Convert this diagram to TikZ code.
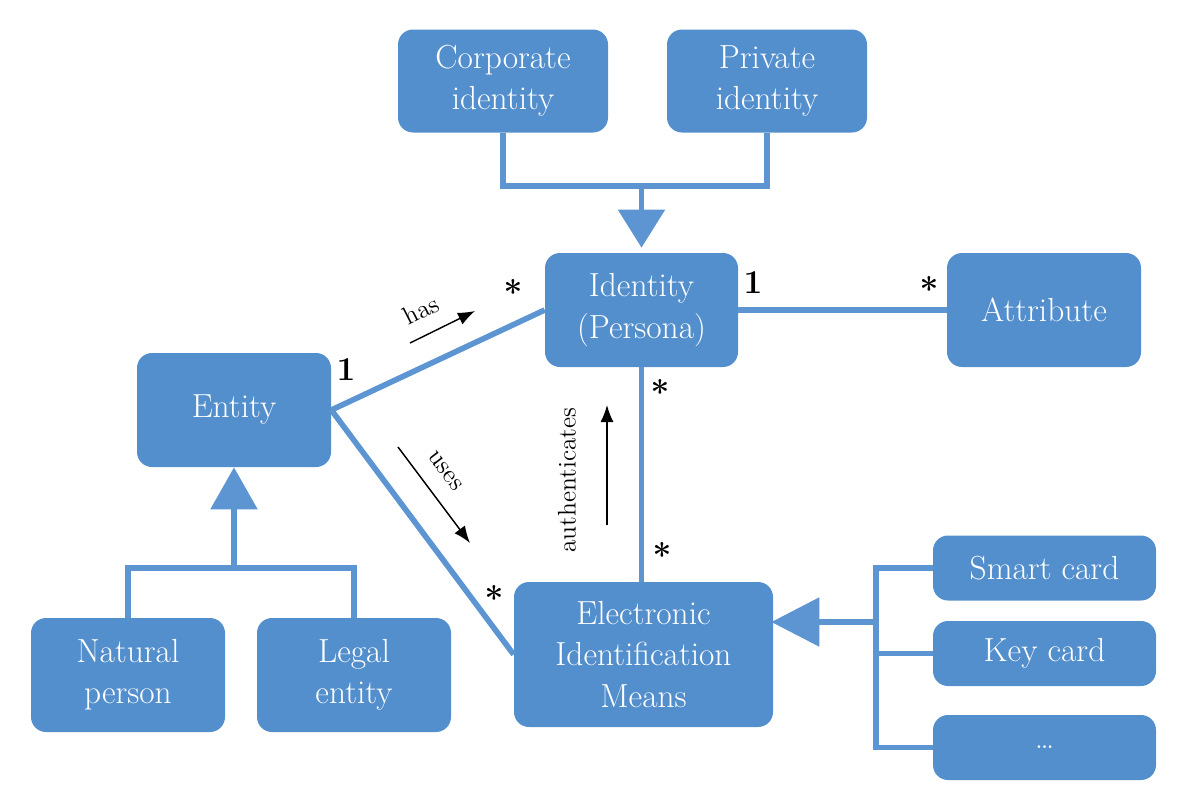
\documentclass[tikz,border=0pt]{standalone}
\usepackage{tikz}
\usepackage{xcolor}
\usetikzlibrary{arrows.meta,positioning}
\definecolor{boxblue}{RGB}{84,143,205}
\definecolor{lineblue}{RGB}{92,149,210}

\begin{document}
\begin{tikzpicture}[font=\fontsize{19}{23.5}\selectfont,
    entbox/.style={fill=boxblue, rounded corners=0.3cm, text=white, align=center, inner sep=0pt},
    link/.style={draw=lineblue, line width=3.2pt},
    gen/.style={link, -{Triangle[width=0.92cm,length=0.76cm]}},
    mult/.style={font=\fontsize{19}{19}\selectfont\bfseries},
    rolelab/.style={font=\fontsize{14.5}{14.5}\selectfont},
    dir/.style={-{Latex[length=0.34cm,width=0.26cm]}, line width=0.8pt}]
\useasboundingbox (0,0) rectangle (24,-16.22);

% classes
\node[entbox, minimum width=4.2cm, minimum height=2.06cm] (corp) at (10.06,-1.62) {Corporate\\identity};
\node[entbox, minimum width=4.0cm, minimum height=2.06cm] (priv) at (15.34,-1.62) {Private\\identity};
\node[entbox, minimum width=3.86cm, minimum height=2.28cm] (ident) at (12.83,-6.2) {Identity\\(Persona)};
\node[entbox, minimum width=3.88cm, minimum height=2.28cm] (attr) at (20.88,-6.2) {Attribute};
\node[entbox, minimum width=3.88cm, minimum height=2.28cm] (entity) at (4.68,-8.2) {Entity};
\node[entbox, minimum width=3.88cm, minimum height=2.28cm] (natural) at (2.56,-13.5) {Natural\\person};
\node[entbox, minimum width=3.88cm, minimum height=2.28cm] (legal) at (7.08,-13.5) {Legal\\entity};
\node[entbox, minimum width=5.18cm, minimum height=2.9cm] (eim) at (12.87,-13.09) {Electronic\\Identification\\Means};
\node[entbox, minimum width=4.46cm, minimum height=1.3cm] (smart) at (20.89,-11.36) {Smart card};
\node[entbox, minimum width=4.46cm, minimum height=1.3cm] (key) at (20.89,-13.07) {Key card};
\node[entbox, minimum width=4.46cm, minimum height=1.3cm] (more) at (20.89,-14.95) {\dots};

% generalisations
\coordinate (topjoin) at (12.83,-3.72);
\coordinate (leftjoin) at (4.68,-11.36);
\coordinate (rightjoin) at (17.52,-12.44);
\draw[link] (corp.south) |- (topjoin) -| (priv.south);
\draw[gen, shorten >=0.1cm] (topjoin) -- (ident.north);
\draw[link] (natural.north) |- (leftjoin) -| (legal.north);
\draw[gen, -{Triangle[width=0.92cm,length=0.84cm]}] (leftjoin) -- (entity.south);
\draw[link] (smart.west) -| (rightjoin) |- (more.west);
\draw[link] (key.west) -- (key.west -| rightjoin);
\draw[gen, -{Triangle[width=0.96cm,length=0.96cm]}, shorten >=-0.04cm] (rightjoin) -- (rightjoin -| eim.east);

% associations
\draw[link] (entity.east) -- (ident.west);
\draw[link] (entity.east) -- (eim.west);
\draw[link] (ident.south) -- (ident.south |- eim.north);
\draw[link] (ident.east) -- (attr.west);

% multiplicities
\node[mult] (m1) at (6.92,-7.4) {1};
\node[mult] (m2) at (10.26,-5.84) {*};
\node[mult] (m3) at (15.06,-5.66) {1};
\node[mult] (m4) at (18.58,-5.78) {*};
\node[mult] (m5) at (13.2,-7.84) {*};
\node[mult] (m6) at (13.24,-11.1) {*};
\node[mult] (m7) at (9.88,-11.96) {*};

% role names
\coordinate (hasA) at (8.2,-6.86);
\coordinate (hasB) at (9.5,-6.22);
\draw[dir] (hasA) -- (hasB);
\node[rolelab, rotate=27] (has) at (8.42,-6.2) {has};
\coordinate (usesA) at (7.96,-8.94);
\coordinate (usesB) at (9.4,-10.86);
\draw[dir] (usesA) -- (usesB);
\node[rolelab, rotate=-53] (uses) at (8.9,-9.42) {uses};
\coordinate (authA) at (12.14,-10.5);
\coordinate (authB) at (12.14,-8.1);
\draw[dir] (authA) -- (authB);
\node[rolelab, rotate=90] (auth) at (11.34,-9.6) {authenticates};
\end{tikzpicture}
\end{document}
